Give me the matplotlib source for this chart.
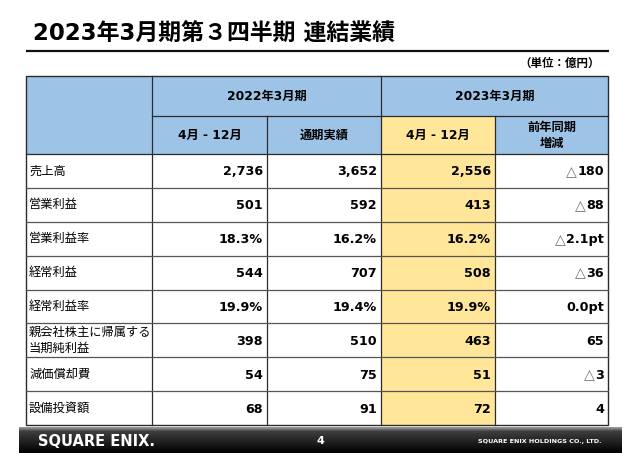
import matplotlib
matplotlib.use('Agg')
import matplotlib.pyplot as plt
from matplotlib.patches import Rectangle
import numpy as np

# fonts: latin digits in DejaVu, kanji falls back to Noto CJK
JP = ['DejaVu Sans', 'Noto Sans CJK JP']
plt.rcParams['font.family'] = JP

# ---- data ----
title = '2023年3月期第３四半期 連結業績'
unit = '（単位：億円）'
year_labels = ['2022年3月期', '2023年3月期']
period_labels = ['4月 - 12月', '通期実績', '4月 - 12月', '前年同期\n増減']
row_labels = ['売上高', '営業利益', '営業利益率', '経常利益', '経常利益率',
              '親会社株主に帰属する\n当期純利益', '減価償却費', '設備投資額']
row_kind = ['amt', 'amt', 'pct', 'amt', 'pct', 'amt', 'amt', 'amt']
fy22_apr_dec = [2736, 501, 18.3, 544, 19.9, 398, 54, 68]
fy22_full = [3652, 592, 16.2, 707, 19.4, 510, 75, 91]
fy23_apr_dec = [2556, 413, 16.2, 508, 19.9, 463, 51, 72]
yoy_change = [-180, -88, -2.1, -36, 0.0, 65, -3, 4]
footer_logo = 'SQUARE ENIX.'
footer_company = 'SQUARE ENIX HOLDINGS CO., LTD.'
page_no = '4'


def fmt(v, kind):
    if kind == 'pct':
        return '%.1f%%' % v
    return '{:,}'.format(v)


def fmt_abs(v, kind):
    return ('%.1fpt' % abs(v)) if kind == 'pct' else '{:,}'.format(abs(v))


# ---- layout (pixel coords) ----
W, H = 640, 453
col_edges = [26, 152, 267, 381, 495, 608]
head_edges = [76, 116, 154]
data_edges = np.linspace(154, 425, len(row_labels) + 1)

BLUE = '#9DC3E6'
YELLOW = '#FFE699'
LINE = '#2b2b2b'
NUM_FS = 9.2

fig = plt.figure(figsize=(6.4, 4.53), dpi=100)
ax = fig.add_axes([0, 0, 1, 1])
ax.set_xlim(0, W)
ax.set_ylim(H, 0)
ax.axis('off')
renderer = fig.canvas.get_renderer()

# title + rule
ax.text(33, 41, title, fontsize=16.5, fontweight='bold', ha='left', va='baseline')
ax.plot([26, 609], [50.7, 50.7], color='#111111', lw=1.6, solid_capstyle='butt')
ax.text(600, 63, unit, fontsize=8.3, fontweight='bold', ha='right', va='center')

# header backgrounds
ax.add_patch(Rectangle((col_edges[0], head_edges[0]), col_edges[-1] - col_edges[0],
                       head_edges[2] - head_edges[0], facecolor=BLUE, edgecolor='none'))
# yellow highlight column
ax.add_patch(Rectangle((col_edges[3], head_edges[1]), col_edges[4] - col_edges[3],
                       data_edges[-1] - head_edges[1], facecolor=YELLOW, edgecolor='none'))

# header texts
ax.text((col_edges[1] + col_edges[3]) / 2, (head_edges[0] + head_edges[1]) / 2,
        year_labels[0], fontsize=8.8, fontweight='bold', ha='center', va='center')
ax.text((col_edges[3] + col_edges[5]) / 2, (head_edges[0] + head_edges[1]) / 2,
        year_labels[1], fontsize=8.8, fontweight='bold', ha='center', va='center')
for i, lab in enumerate(period_labels):
    ax.text((col_edges[i + 1] + col_edges[i + 2]) / 2, (head_edges[1] + head_edges[2]) / 2,
            lab, fontsize=8.8, fontweight='bold', ha='center', va='center',
            multialignment='center', linespacing=1.3)

# body
columns = [fy22_apr_dec, fy22_full, fy23_apr_dec]
for r, lab in enumerate(row_labels):
    yc = (data_edges[r] + data_edges[r + 1]) / 2
    ax.text(col_edges[0] + 3, yc, lab, fontsize=8.8, ha='left', va='center',
            family=['Noto Sans CJK JP'], linespacing=1.25)
    for c, vals in enumerate(columns):
        ax.text(col_edges[c + 2] - 4, yc + 1, fmt(vals[r], row_kind[r]), fontsize=NUM_FS,
                fontweight='bold', ha='right', va='center')
    t = ax.text(col_edges[5] - 4, yc + 1, fmt_abs(yoy_change[r], row_kind[r]),
                fontsize=NUM_FS, fontweight='bold', ha='right', va='center')
    if yoy_change[r] < 0:
        # thin grey triangle marks a decrease
        bb = t.get_window_extent(renderer)
        x_left = ax.transData.inverted().transform((bb.x0, bb.y0))[0]
        ax.text(x_left - 0.5, yc + 1, '△', fontsize=NUM_FS + 1, color='#707070',
                ha='right', va='center', family=['DejaVu Sans'])

# grid lines
top, bot = head_edges[0], data_edges[-1]
for x in [col_edges[1], col_edges[3]]:
    ax.plot([x, x], [top, bot], color=LINE, lw=0.9)
for x in [col_edges[2], col_edges[4]]:
    ax.plot([x, x], [head_edges[1], bot], color=LINE, lw=0.9)
ax.plot([col_edges[1], col_edges[5]], [head_edges[1]] * 2, color=LINE, lw=0.9)
ax.plot([col_edges[0], col_edges[5]], [head_edges[2]] * 2, color=LINE, lw=0.9)
for y in data_edges[1:-1]:
    ax.plot([col_edges[0], col_edges[5]], [y, y], color='#555555', lw=0.9)
ax.add_patch(Rectangle((col_edges[0], top), col_edges[5] - col_edges[0], bot - top,
                       facecolor='none', edgecolor=LINE, lw=1.0))

# footer bar
grad = np.linspace(0, 1, 64)[:, None]
cvals = np.interp(grad, [0, 0.08, 0.15, 1], [0.62, 0.45, 0.25, 0.0])
ax.imshow(np.dstack([cvals, cvals, cvals]), extent=(19, 622, 453, 427), aspect='auto',
          interpolation='bilinear', zorder=2)
ax.set_xlim(0, W)
ax.set_ylim(H, 0)
ax.text(38, 441, footer_logo, color='white', fontsize=10.5, fontweight='bold',
        ha='left', va='center', zorder=3)
ax.text(320, 441, page_no, color='white', fontsize=8, fontweight='bold',
        ha='center', va='center', zorder=3)
ax.text(602, 441, footer_company, color='white', fontsize=4.6, fontweight='bold',
        ha='right', va='center', zorder=3)

fig.savefig('out.png', dpi=100)
